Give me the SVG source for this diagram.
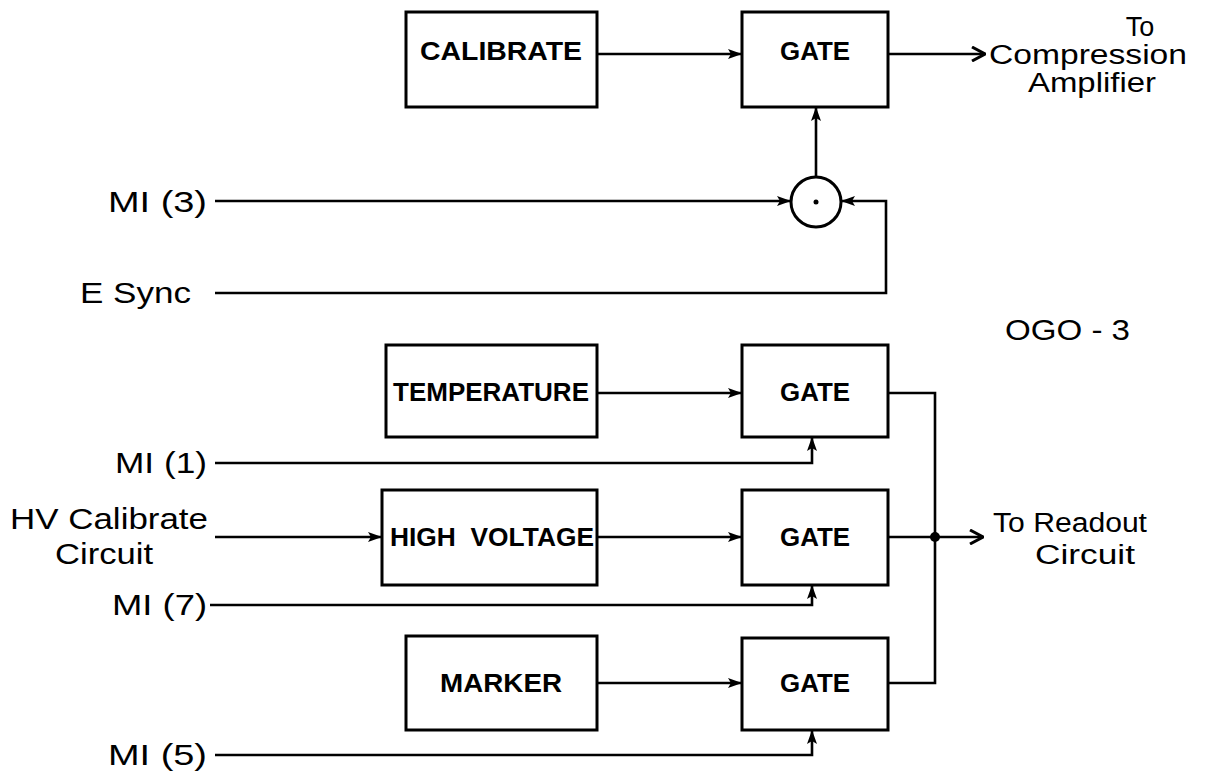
<svg xmlns="http://www.w3.org/2000/svg" width="1208" height="774" viewBox="0 0 1208 774">
<style>
.box{fill:#fff;stroke:#000;stroke-width:3}
.ln{fill:none;stroke:#000;stroke-width:2.6;stroke-linejoin:miter}
.bt{font-family:"Liberation Sans",Arial,sans-serif;font-weight:bold;font-size:25px;text-anchor:middle;fill:#000}
.lt{font-family:"Liberation Sans",Arial,sans-serif;font-size:29px;fill:#000}
.rt{font-family:"Liberation Sans",Arial,sans-serif;font-size:27px;fill:#000;text-anchor:middle}
</style>
<defs>
<marker id="ah" viewBox="0 0 14 10" refX="13" refY="5" markerWidth="14" markerHeight="10" markerUnits="userSpaceOnUse" orient="auto">
<path d="M0,0 L14,5 L0,10 L3,5 Z" fill="#000"/>
</marker>
<marker id="oa" viewBox="0 0 16 16" refX="15" refY="8" markerWidth="16" markerHeight="16" markerUnits="userSpaceOnUse" orient="auto">
<path d="M2,1 L15,8 L2,15" fill="none" stroke="#000" stroke-width="3"/>
</marker>
</defs>
<rect width="1208" height="774" fill="#fff"/>

<g id="connectors">
<line class="ln" x1="597" y1="54" x2="741" y2="54" marker-end="url(#ah)"/>
<line class="ln" x1="888" y1="54" x2="985" y2="54" marker-end="url(#oa)"/>
<line class="ln" x1="816" y1="177" x2="816" y2="108" marker-end="url(#ah)"/>
<line class="ln" x1="215" y1="201" x2="790" y2="201" marker-end="url(#ah)"/>
<polyline class="ln" points="215,293 886,293 886,201 842,201" marker-end="url(#ah)"/>
<line class="ln" x1="597" y1="393" x2="741" y2="393" marker-end="url(#ah)"/>
<polyline class="ln" points="215,463 812,463 812,438" marker-end="url(#ah)"/>
<line class="ln" x1="215" y1="537" x2="381" y2="537" marker-end="url(#ah)"/>
<line class="ln" x1="597" y1="537" x2="741" y2="537" marker-end="url(#ah)"/>
<polyline class="ln" points="210,605 812,605 812,586" marker-end="url(#ah)"/>
<line class="ln" x1="597" y1="683" x2="741" y2="683" marker-end="url(#ah)"/>
<polyline class="ln" points="215,755 812,755 812,731" marker-end="url(#ah)"/>
<polyline class="ln" points="888,393 935,393 935,683 888,683"/>
<line class="ln" x1="888" y1="537" x2="983" y2="537" marker-end="url(#oa)"/>
<circle cx="935" cy="537" r="5" fill="#000"/>
</g>

<g id="calibrate"><rect class="box" x="406" y="12" width="191" height="95"/><text class="bt" x="501" y="60" textLength="162" lengthAdjust="spacingAndGlyphs">CALIBRATE</text></g>
<g id="gate1"><rect class="box" x="742" y="12" width="146" height="95"/><text class="bt" x="815" y="60" textLength="70" lengthAdjust="spacingAndGlyphs">GATE</text></g>
<g id="mixer"><circle cx="816" cy="202" r="25" fill="#fff" stroke="#000" stroke-width="3"/><circle cx="816" cy="202" r="2.5" fill="#000"/></g>
<g id="temperature"><rect class="box" x="386" y="345" width="211" height="92"/><text class="bt" x="491" y="401" textLength="196" lengthAdjust="spacingAndGlyphs">TEMPERATURE</text></g>
<g id="gate2"><rect class="box" x="742" y="345" width="146" height="92"/><text class="bt" x="815" y="401" textLength="70" lengthAdjust="spacingAndGlyphs">GATE</text></g>
<g id="highvoltage"><rect class="box" x="382" y="490" width="215" height="95"/><text class="bt" x="492" y="546" xml:space="preserve" textLength="204" lengthAdjust="spacingAndGlyphs">HIGH  VOLTAGE</text></g>
<g id="gate3"><rect class="box" x="742" y="490" width="146" height="95"/><text class="bt" x="815" y="546" textLength="70" lengthAdjust="spacingAndGlyphs">GATE</text></g>
<g id="marker"><rect class="box" x="406" y="636" width="191" height="94"/><text class="bt" x="501" y="692" textLength="122" lengthAdjust="spacingAndGlyphs">MARKER</text></g>
<g id="gate4"><rect class="box" x="742" y="638" width="146" height="92"/><text class="bt" x="815" y="692" textLength="70" lengthAdjust="spacingAndGlyphs">GATE</text></g>

<g id="labels">
<text class="lt" x="108" y="212" textLength="99" lengthAdjust="spacingAndGlyphs">MI (3)</text>
<text class="lt" x="80" y="303" textLength="111" lengthAdjust="spacingAndGlyphs">E  Sync</text>
<text class="lt" x="115" y="473" textLength="92" lengthAdjust="spacingAndGlyphs">MI (1)</text>
<text class="lt" x="10" y="529" textLength="198" lengthAdjust="spacingAndGlyphs">HV Calibrate</text>
<text class="lt" x="55" y="564" textLength="98" lengthAdjust="spacingAndGlyphs">Circuit</text>
<text class="lt" x="112" y="615" textLength="95" lengthAdjust="spacingAndGlyphs">MI (7)</text>
<text class="lt" x="108" y="765" textLength="99" lengthAdjust="spacingAndGlyphs">MI (5)</text>
<text class="rt" x="1140" y="36">To</text>
<text class="rt" x="1088" y="64" textLength="198" lengthAdjust="spacingAndGlyphs">Compression</text>
<text class="rt" x="1092" y="92" textLength="128" lengthAdjust="spacingAndGlyphs">Amplifier</text>
<text class="lt" x="1005" y="340" textLength="125" lengthAdjust="spacingAndGlyphs">OGO - 3</text>
<text class="rt" x="1070" y="532" textLength="154" lengthAdjust="spacingAndGlyphs">To Readout</text>
<text class="rt" x="1085" y="564" textLength="100" lengthAdjust="spacingAndGlyphs">Circuit</text>
</g>
</svg>
